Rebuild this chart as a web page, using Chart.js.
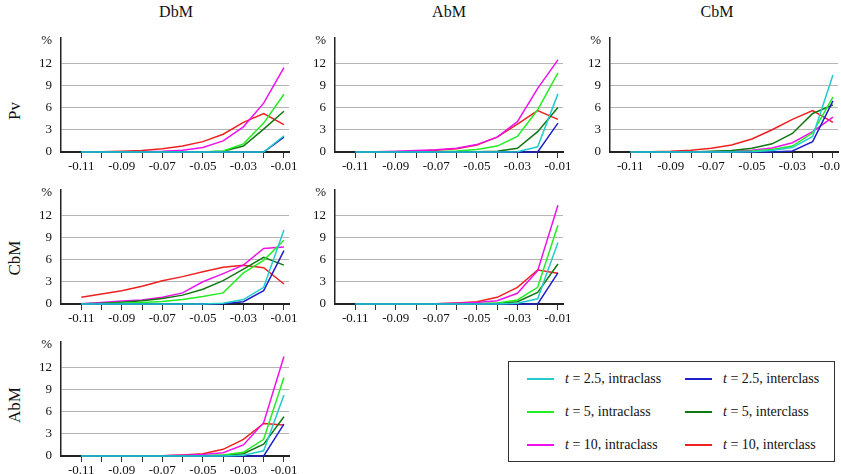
<!DOCTYPE html>
<html>
<head>
<meta charset="utf-8">
<script src="https://cdn.jsdelivr.net/npm/chart.js@4.4.1/dist/chart.umd.min.js"></script>
<style>
body{margin:0;background:#fff;width:841px;height:474px;overflow:hidden;position:relative;font-family:"Liberation Serif",serif;color:#111}
.panel{position:absolute}
.title{position:absolute;top:3px;font-size:16px;transform:translateX(-50%)}
.rowlab{position:absolute;font-size:17px;white-space:nowrap;transform:translate(-50%,-50%) rotate(-90deg)}
#legend{position:absolute;left:508px;top:361px;width:327px;height:101px;border:1px solid #333;box-sizing:border-box}
.item{position:absolute;font-size:14px;line-height:16px;white-space:nowrap}
.item .sw{position:absolute;left:0;top:7px;width:27px;height:2px}
.item .tx{position:absolute;left:38px;top:0}
</style>
</head>
<body>
<div class="title" style="left:176px">DbM</div>
<div class="title" style="left:449px">AbM</div>
<div class="title" style="left:717px">CbM</div>
<div class="rowlab" style="left:15px;top:111px">Pv</div>
<div class="rowlab" style="left:15px;top:258px">CbM</div>
<div class="rowlab" style="left:15px;top:405px">AbM</div>
<div id="legend"></div>

<script>
// x positions (threshold) and tick labels
const xValues = [-0.11, -0.10, -0.09, -0.08, -0.07, -0.06, -0.05, -0.04, -0.03, -0.02, -0.01];
const xTickLabels = ['-0.11', '', '-0.09', '', '-0.07', '', '-0.05', '', '-0.03', '', '-0.01'];
const yTicks = [0, 3, 6, 9, 12, 15];

const seriesLabels = ['t = 2.5, intraclass', 't = 2.5, interclass', 't = 5, intraclass', 't = 5, interclass', 't = 10, intraclass', 't = 10, interclass'];
const seriesColors = ['#22cccc', '#2020c8', '#22ee22', '#117711', '#ee11ee', '#ee2020'];

// DbM / Pv
const dbmPv25Intra = [0, 0, 0, 0, 0, 0, 0, 0, 0, 0, 2.2];
const dbmPv25Inter = [0, 0, 0, 0, 0, 0, 0, 0, 0, 0, 2.0];
const dbmPv5Intra = [0, 0, 0, 0, 0, 0, 0, 0.15, 1.1, 3.9, 7.8];
const dbmPv5Inter = [0, 0, 0, 0, 0, 0, 0, 0.1, 0.8, 3.1, 5.5];
const dbmPv10Intra = [0, 0, 0.02, 0.05, 0.1, 0.25, 0.6, 1.5, 3.4, 6.6, 11.4];
const dbmPv10Inter = [0, 0.03, 0.1, 0.2, 0.45, 0.8, 1.4, 2.4, 4.0, 5.2, 3.7];

// AbM / Pv
const abmPv25Intra = [0, 0, 0, 0, 0, 0, 0, 0, 0.05, 0.7, 7.85];
const abmPv25Inter = [0, 0, 0, 0, 0, 0, 0, 0, 0, 0, 3.9];
const abmPv5Intra = [0, 0, 0, 0, 0.05, 0.15, 0.35, 0.8, 2.1, 5.7, 10.7];
const abmPv5Inter = [0, 0, 0, 0, 0, 0, 0.03, 0.1, 0.5, 2.75, 6.0];
const abmPv10Intra = [0, 0.05, 0.1, 0.2, 0.3, 0.5, 1.0, 2.0, 4.1, 8.6, 12.45];
const abmPv10Inter = [0, 0, 0.05, 0.1, 0.25, 0.45, 0.95, 2.0, 3.75, 5.6, 4.4];

// CbM / Pv
const cbmPv25Intra = [0, 0, 0, 0, 0, 0, 0.05, 0.2, 0.6, 2.1, 10.4];
const cbmPv25Inter = [0, 0, 0, 0, 0, 0, 0, 0, 0.15, 1.4, 6.9];
const cbmPv5Intra = [0, 0, 0, 0, 0, 0.05, 0.15, 0.35, 0.8, 2.6, 7.4];
const cbmPv5Inter = [0, 0, 0, 0, 0.1, 0.2, 0.5, 1.1, 2.5, 5.2, 6.35];
const cbmPv10Intra = [0, 0, 0, 0, 0.05, 0.1, 0.25, 0.55, 1.25, 2.75, 4.7];
const cbmPv10Inter = [0, 0.05, 0.1, 0.25, 0.5, 0.95, 1.75, 3.0, 4.4, 5.6, 4.0];

// DbM / CbM
const dbmCbm25Intra = [0, 0, 0, 0, 0, 0, 0, 0.1, 0.6, 2.25, 10.0];
const dbmCbm25Inter = [0, 0, 0, 0, 0, 0, 0, 0.05, 0.3, 1.8, 7.2];
const dbmCbm5Intra = [0, 0.05, 0.1, 0.2, 0.35, 0.6, 1.0, 1.5, 4.2, 5.9, 8.6];
const dbmCbm5Inter = [0.03, 0.1, 0.25, 0.45, 0.75, 1.2, 2.0, 3.15, 4.7, 6.3, 5.25];
const dbmCbm10Intra = [0.05, 0.2, 0.4, 0.55, 0.9, 1.5, 3.0, 4.1, 5.25, 7.5, 7.7];
const dbmCbm10Inter = [0.9, 1.35, 1.8, 2.4, 3.15, 3.7, 4.35, 4.95, 5.25, 4.9, 2.7];

// AbM / CbM
const abmCbm25Intra = [0, 0, 0, 0, 0, 0, 0, 0, 0.1, 0.7, 8.3];
const abmCbm25Inter = [0, 0, 0, 0, 0, 0, 0, 0, 0, 0, 4.2];
const abmCbm5Intra = [0, 0, 0, 0, 0, 0, 0.05, 0.15, 0.55, 2.25, 10.65];
const abmCbm5Inter = [0, 0, 0, 0, 0, 0, 0, 0.1, 0.3, 1.55, 5.4];
const abmCbm10Intra = [0, 0, 0, 0, 0.05, 0.1, 0.2, 0.45, 1.45, 4.5, 13.35];
const abmCbm10Inter = [0, 0, 0, 0, 0.05, 0.15, 0.3, 0.9, 2.25, 4.6, 4.15];

// DbM / AbM
const dbmAbm25Intra = [0, 0, 0, 0, 0, 0, 0, 0, 0.1, 0.7, 8.25];
const dbmAbm25Inter = [0, 0, 0, 0, 0, 0, 0, 0, 0, 0, 4.3];
const dbmAbm5Intra = [0, 0, 0, 0, 0, 0, 0.05, 0.15, 0.5, 2.25, 10.6];
const dbmAbm5Inter = [0, 0, 0, 0, 0, 0, 0, 0.1, 0.3, 1.6, 5.3];
const dbmAbm10Intra = [0, 0, 0, 0, 0.05, 0.1, 0.2, 0.45, 1.5, 4.5, 13.45];
const dbmAbm10Inter = [0, 0, 0, 0, 0.05, 0.15, 0.3, 0.9, 2.25, 4.4, 4.2];

const FONT = "'Liberation Serif', 'Times New Roman', serif";
Chart.defaults.font.family = FONT;
const PAD_L = 40, PAD_T = 10, PAD_R = 40, X_H = 26;
const AREA_W = 228, AREA_H = 114;

function makePanel(left, top, series) {
    const wrap = document.createElement('div');
    wrap.className = 'panel';
    wrap.style.left = (left - PAD_L) + 'px';
    wrap.style.top = (top - PAD_T) + 'px';
    const canvas = document.createElement('canvas');
    canvas.width = AREA_W + PAD_L + PAD_R;
    canvas.height = AREA_H + PAD_T + X_H;
    wrap.appendChild(canvas);
    document.body.appendChild(wrap);

    new Chart(canvas.getContext('2d'), {
        type: 'line',
        data: {
            datasets: series.map((vals, i) => ({
                label: seriesLabels[i],
                data: xValues.map((x, j) => ({ x: x, y: vals[j] })),
                borderColor: seriesColors[i],
                borderWidth: 1.5,
                pointRadius: 0,
                tension: 0,
                fill: false,
                clip: false
            }))
        },
        options: {
            responsive: false,
            animation: false,
            layout: { padding: { top: PAD_T, right: PAD_R, left: 0, bottom: 0 } },
            plugins: { legend: { display: false }, tooltip: { enabled: false } },
            scales: {
                x: {
                    type: 'linear',
                    min: -0.12,
                    max: -0.0075,
                    afterBuildTicks: s => { s.ticks = xValues.map(v => ({ value: v })); },
                    afterFit: s => { s.height = X_H; s.paddingLeft = 0; s.paddingRight = 0; },
                    ticks: {
                        autoSkip: false,
                        maxRotation: 0,
                        padding: 1,
                        color: '#111',
                        font: { family: FONT, size: 13 },
                        callback: (v, idx) => xTickLabels[idx]
                    },
                    grid: { drawOnChartArea: false, drawTicks: true, tickLength: 6, color: '#333', lineWidth: 1 },
                    border: { color: '#222', width: 2 }
                },
                y: {
                    min: 0,
                    max: 15.4,
                    afterBuildTicks: s => { s.ticks = yTicks.map(v => ({ value: v })); },
                    afterFit: s => { s.width = PAD_L; s.paddingTop = 0; s.paddingBottom = 0; },
                    ticks: {
                        padding: 9,
                        color: '#111',
                        font: { family: FONT, size: 13 },
                        callback: v => (v === 15 ? '%' : String(v))
                    },
                    grid: {
                        drawTicks: false,
                        lineWidth: 1,
                        color: ctx => (ctx.tick && ctx.tick.value === 15 ? 'rgba(0,0,0,0)' : '#b4b4b4')
                    },
                    border: { color: '#222', width: 1.5 }
                }
            }
        }
    });
}

function drawAll() {
    makePanel(61, 38, [dbmPv25Intra, dbmPv25Inter, dbmPv5Intra, dbmPv5Inter, dbmPv10Intra, dbmPv10Inter]);
    makePanel(335, 38, [abmPv25Intra, abmPv25Inter, abmPv5Intra, abmPv5Inter, abmPv10Intra, abmPv10Inter]);
    makePanel(610, 38, [cbmPv25Intra, cbmPv25Inter, cbmPv5Intra, cbmPv5Inter, cbmPv10Intra, cbmPv10Inter]);
    makePanel(61, 190, [dbmCbm25Intra, dbmCbm25Inter, dbmCbm5Intra, dbmCbm5Inter, dbmCbm10Intra, dbmCbm10Inter]);
    makePanel(335, 190, [abmCbm25Intra, abmCbm25Inter, abmCbm5Intra, abmCbm5Inter, abmCbm10Intra, abmCbm10Inter]);
    makePanel(61, 342, [dbmAbm25Intra, dbmAbm25Inter, dbmAbm5Intra, dbmAbm5Inter, dbmAbm10Intra, dbmAbm10Inter]);
}

// legend box, drawn as html so the "t" can be italic
const legend = document.getElementById('legend');
const rowTops = [9, 42, 75];
const colLefts = [18, 176];
seriesLabels.forEach((lab, i) => {
    const item = document.createElement('div');
    item.className = 'item';
    item.style.left = colLefts[i % 2] + 'px';
    item.style.top = rowTops[Math.floor(i / 2)] + 'px';
    const rest = lab.slice(1);
    item.innerHTML = '<span class="sw" style="background:' + seriesColors[i] + '"></span>' +
        '<span class="tx"><i>t</i>' + rest + '</span>';
    legend.appendChild(item);
});

// the canvas falls back to sans if the serif face is not loaded yet
document.fonts.load('13px "Liberation Serif"').then(drawAll, drawAll);
</script>
</body>
</html>
